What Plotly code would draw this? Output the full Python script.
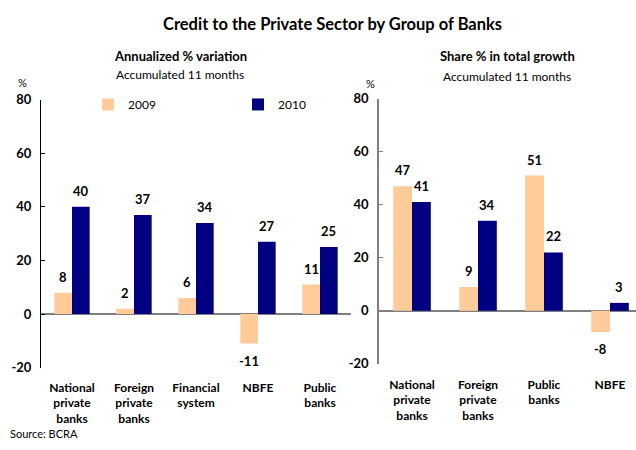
import plotly.graph_objects as go

# ---- data ----
left_categories = ["National<br>private<br>banks", "Foreign<br>private<br>banks",
                   "Financial<br>system", "NBFE", "Public<br>banks"]
left_2009 = [8, 2, 6, -11, 11]
left_2010 = [40, 37, 34, 27, 25]

right_categories = ["National<br>private<br>banks", "Foreign<br>private<br>banks",
                    "Public<br>banks", "NBFE"]
right_2009 = [47, 9, 51, -8]
right_2010 = [41, 34, 22, 3]

series_names = ["2009", "2010"]
colors = ["#FFCC99", "#000080"]
y_ticks = [-20, 0, 20, 40, 60, 80]
y_ticktext = ["-20", "0", "20", "40", "60", "80"]

W, H = 636, 450
FONT = "Lato"
BARGAP = 0.43

fig = go.Figure()

for vals, name, col in zip([left_2009, left_2010], series_names, colors):
    fig.add_trace(go.Bar(x=list(range(len(left_categories))), y=vals, name=name,
                         marker=dict(color=col, line=dict(width=0)),
                         xaxis="x", yaxis="y", showlegend=True))
for vals, name, col in zip([right_2009, right_2010], series_names, colors):
    fig.add_trace(go.Bar(x=list(range(len(right_categories))), y=vals, name=name,
                         marker=dict(color=col, line=dict(width=0)),
                         xaxis="x2", yaxis="y2", showlegend=False))

# data labels
annotations = []
half = (1 - BARGAP) / 4
for xref, yref, series in [("x", "y", [left_2009, left_2010]),
                           ("x2", "y2", [right_2009, right_2010])]:
    for si, vals in enumerate(series):
        for i, v in enumerate(vals):
            annotations.append(dict(
                x=i + (-half if si == 0 else half), y=v, xref=xref, yref=yref,
                text=str(v), showarrow=False, yanchor="middle",
                yshift=16 if v >= 0 else -17,
                font=dict(family=FONT, size=13, color="black", weight="bold")))

def paper_text(x, y, text, size, bold=False, xanchor="center"):
    annotations.append(dict(x=x / W, y=1 - y / H, xref="paper", yref="paper",
                            text=text, showarrow=False, xanchor=xanchor, yanchor="middle",
                            font=dict(family=FONT, size=size, color="black",
                                      weight="bold" if bold else "normal")))

paper_text(332, 17, "Credit to the Private Sector by Group of Banks", 16.5, True)
paper_text(180, 50, "Annualized % variation", 13, True)
paper_text(180, 69, "Accumulated 11 months", 12)
paper_text(507, 50, "Share % in total growth", 13, True)
paper_text(507, 71, "Accumulated 11 months", 12)
paper_text(22, 77, "%", 11)
paper_text(370, 78, "%", 11)
paper_text(8, 441, "Source: BCRA", 11, xanchor="left")

tickfont = dict(family=FONT, size=13, color="black", weight="bold")
catfont = dict(family=FONT, size=12, color="black", weight="bold")

fig.update_layout(
    width=W, height=H,
    margin=dict(l=0, r=0, t=0, b=0),
    paper_bgcolor="white", plot_bgcolor="white",
    barmode="group", bargap=BARGAP, bargroupgap=0,
    font=dict(family=FONT, color="black"),
    annotations=annotations,
    legend=dict(orientation="h", x=88 / W, y=1 - 100 / H, xanchor="left", yanchor="middle",
                entrywidth=105, itemwidth=30, bgcolor="rgba(0,0,0,0)",
                font=dict(family=FONT, size=12, color="black")),
    xaxis=dict(domain=[41 / W, 351 / W], range=[-0.5, 4.5], anchor="y",
               tickmode="array", tickvals=list(range(len(left_categories))),
               ticktext=left_categories, tickfont=catfont, showline=False,
               showgrid=False, zeroline=False, ticks="", ticklabelstandoff=11),
    yaxis=dict(domain=[1 - 373 / H, 1 - 95 / H], range=[-20, 80], anchor="x",
               tickmode="array", tickvals=y_ticks, ticktext=y_ticktext, tickfont=tickfont,
               showline=True, linecolor="black", linewidth=1, ticks="inside",
               ticklen=4, tickcolor="black", showgrid=False, ticklabelstandoff=6,
               zeroline=True, zerolinecolor="#7f7f7f", zerolinewidth=1.5),
    xaxis2=dict(domain=[379 / W, 1.0], range=[-0.5, 3.394], anchor="y2",
                tickmode="array", tickvals=list(range(len(right_categories))),
                ticktext=right_categories, tickfont=catfont, showline=False,
                showgrid=False, zeroline=False, ticks="", ticklabelstandoff=12),
    yaxis2=dict(domain=[1 - 369 / H, 1 - 94 / H], range=[-20, 80], anchor="x2",
                tickmode="array", tickvals=y_ticks, ticktext=y_ticktext, tickfont=tickfont,
                showline=True, linecolor="#7f7f7f", linewidth=1.5, ticks="inside",
                ticklen=4, tickcolor="#7f7f7f", showgrid=False, ticklabelstandoff=6,
                zeroline=True, zerolinecolor="#7f7f7f", zerolinewidth=1.5),
)

fig.write_html("out.html")
